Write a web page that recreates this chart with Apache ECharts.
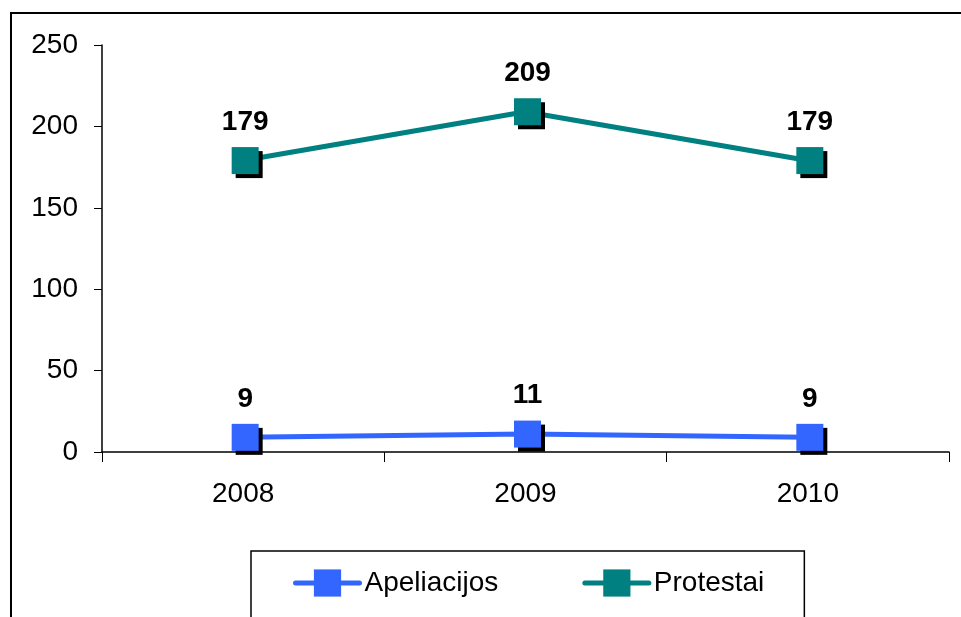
<!DOCTYPE html>
<html>
<head>
<meta charset="utf-8">
<script src="https://cdn.jsdelivr.net/npm/echarts@6/dist/echarts.min.js"></script>
<style>
html,body{margin:0;padding:0;background:#fff;}
#c{width:961px;height:617px;}
</style>
</head>
<body>
<div id="c"></div>
<script>
const categories = ['2008', '2009', '2010'];
const apeliacijos = [9, 11, 9];
const protestai = [179, 209, 179];
const yTicks = { min: 0, max: 250, interval: 50 };

const chart = echarts.init(document.getElementById('c'));
const font = 'Liberation Sans, Arial, sans-serif';
function mkSeries(name, data, color) {
  return {
    name: name,
    type: 'line',
    data: data,
    symbol: 'rect',
    symbolSize: 27,
    symbolOffset: [2, 0],
    lineStyle: { color: color, width: 5 },
    itemStyle: { color: color, shadowColor: '#000', shadowBlur: 0, shadowOffsetX: 4, shadowOffsetY: 4 },
    label: { show: true, position: 'top', distance: 11, color: '#000', fontFamily: font, fontSize: 28, fontWeight: 'bold' },
    emphasis: { disabled: true },
    animation: false
  };
}
chart.setOption({
  animation: false,
  graphic: [{
    type: 'rect', silent: true,
    shape: { x: 11, y: 13, width: 1200, height: 800 },
    style: { fill: 'none', stroke: '#000', lineWidth: 2 }
  }],
  grid: { left: 102, top: 45, right: 12, bottom: 165, containLabel: false },
  xAxis: {
    type: 'category', data: categories, boundaryGap: true,
    axisLine: { lineStyle: { color: '#000', width: 1.5 } },
    axisTick: { show: true, length: 10, lineStyle: { color: '#000' } },
    axisLabel: { color: '#000', fontFamily: font, fontSize: 28, margin: 28 },
    splitLine: { show: false }
  },
  yAxis: {
    type: 'value', min: yTicks.min, max: yTicks.max, interval: yTicks.interval,
    axisLine: { show: true, lineStyle: { color: '#000', width: 1.5 } },
    axisTick: { show: true, length: 8, lineStyle: { color: '#000' } },
    axisLabel: { color: '#000', fontFamily: font, fontSize: 28, margin: 24 },
    splitLine: { show: false }
  },
  legend: {
    left: 251, top: 551,
    padding: [18, 40, 37, 42],
    borderColor: '#000', borderWidth: 1.5,
    itemWidth: 64, itemHeight: 34, itemGap: 84,
    textStyle: { color: '#000', fontFamily: font, fontSize: 28 },
    lineStyle: { width: 5, cap: 'round' },
    itemStyle: { shadowColor: 'transparent', shadowOffsetX: 0, shadowOffsetY: 0 },
    data: ['Apeliacijos', 'Protestai']
  },
  series: [
    mkSeries('Apeliacijos', apeliacijos, '#3366FF'),
    mkSeries('Protestai', protestai, '#008080')
  ]
});
</script>
</body>
</html>
